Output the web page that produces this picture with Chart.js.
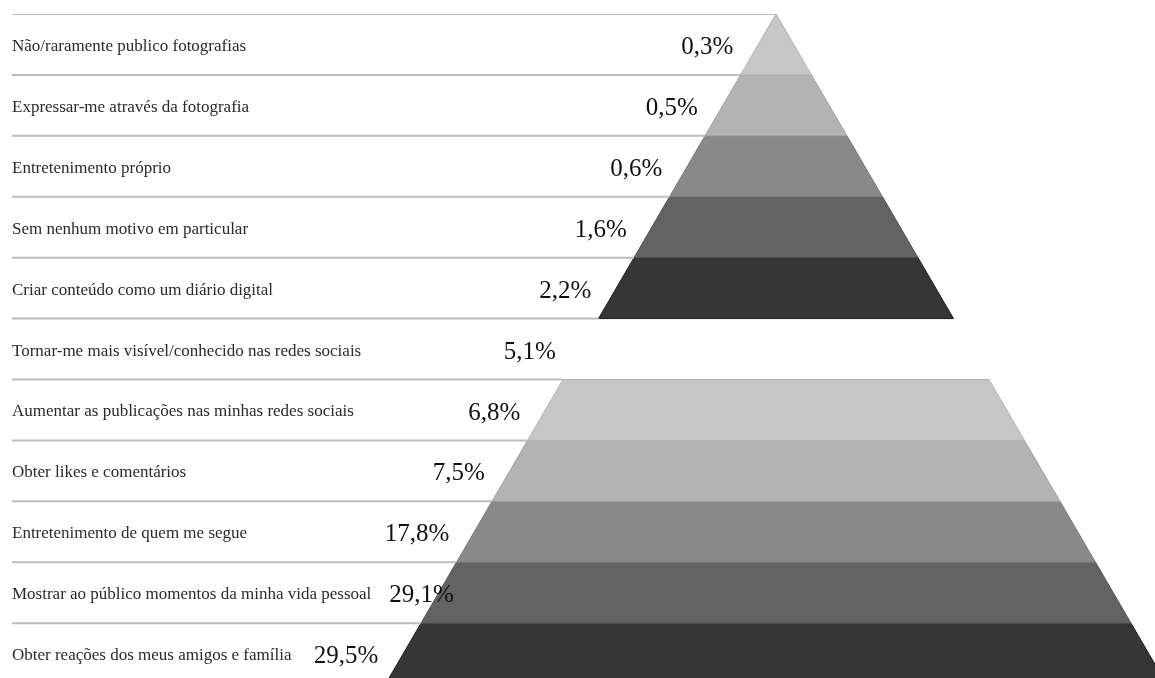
<!DOCTYPE html>
<html lang="pt">
<head>
<meta charset="utf-8">
<title>Motivos para publicar fotografias</title>
<script src="https://cdn.jsdelivr.net/npm/chart.js@4.4.1/dist/chart.umd.min.js"></script>
<style>
  html, body { margin: 0; padding: 0; background: #fff; }
  #wrap { width: 1155px; height: 678px; position: relative; }
</style>
</head>
<body>
<div id="wrap"><canvas id="pyramid"></canvas></div>
<script>
// categories, top to bottom
const categories = [
  'Não/raramente publico fotografias',
  'Expressar-me através da fotografia',
  'Entretenimento próprio',
  'Sem nenhum motivo em particular',
  'Criar conteúdo como um diário digital',
  'Tornar-me mais visível/conhecido nas redes sociais',
  'Aumentar as publicações nas minhas redes sociais',
  'Obter likes e comentários',
  'Entretenimento de quem me segue',
  'Mostrar ao público momentos da minha vida pessoal',
  'Obter reações dos meus amigos e família'
];
// share of answers, %
const shares = [0.3, 0.5, 0.6, 1.6, 2.2, 5.1, 6.8, 7.5, 17.8, 29.1, 29.5];

// look & layout
const shades = ['#c6c6c6', '#b3b3b3', '#898989', '#636363', '#363636'];
const edgeShades = ['#b4b4b4', '#a2a2a2', '#7a7a7a', '#505050', '#1c1c1c'];
const gapRow = 5;          // row between the two halves of the pyramid
const apexX = 764;         // x of the pyramid tip (x units = px from the left rule start)
const halfStep = 35.5;     // half width added per row
const rowsShown = 10.9;    // the last row is cut by the bottom of the picture
const labelFont = '17px "Liberation Serif", serif';
const pctFont = '25px "Liberation Serif", serif';

// left edge of the pyramid at a given row position
function edgeAt(row) {
  return apexX - halfStep * row;
}

function fmt(v) {
  return v.toFixed(1).replace('.', ',') + '%';
}

// one trapezoid per row (none on the gap row)
const bandSets = [];
categories.forEach((_, i) => {
  if (i === gapRow) return;
  const k = i < gapRow ? i : i - gapRow - 1;
  const t = halfStep * i;
  const b = halfStep * (i + 1);
  bandSets.push({
    data: [
      { x: apexX - t, y: i }, { x: apexX + t, y: i },
      { x: apexX + b, y: i + 1 }, { x: apexX - b, y: i + 1 },
      { x: apexX - t, y: i }
    ],
    backgroundColor: shades[k],
    borderColor: edgeShades[k],
    borderWidth: 1,
    fill: 'shape',
    pointRadius: 0,
    tension: 0
  });
});

// grey rules above each row, stopping at the pyramid
const ruleSets = categories.map((_, i) => ({
  data: [{ x: 0, y: i }, { x: edgeAt(i), y: i }],
  borderColor: '#bdbdbd',
  borderWidth: 2,
  fill: false,
  pointRadius: 0
}));

// percentage next to the pyramid, pushed right when it would hit the label
const shareLabels = {
  id: 'shareLabels',
  afterDatasetsDraw(chart) {
    const { ctx, scales: { x, y } } = chart;
    ctx.save();
    shares.forEach((v, i) => {
      ctx.font = labelFont;
      const labelEnd = y.right + ctx.measureText(categories[i]).width;
      ctx.font = pctFont;
      const txt = fmt(v);
      const w = ctx.measureText(txt).width;
      let right = x.getPixelForValue(edgeAt(i + 0.5)) - 25;
      if (right - w < labelEnd + 18) right = labelEnd + 18 + w;
      ctx.textAlign = 'right';
      ctx.textBaseline = 'middle';
      ctx.fillStyle = '#111';
      ctx.fillText(txt, right, y.getPixelForValue(i + 0.5) + 3);
    });
    ctx.restore();
  }
};

new Chart(document.getElementById('pyramid'), {
  type: 'line',
  data: { datasets: [...ruleSets, ...bandSets] },
  options: {
    responsive: true,
    maintainAspectRatio: false,
    animation: false,
    events: [],
    layout: { padding: { left: 12, top: 14, right: 0, bottom: 0 } },
    plugins: { legend: { display: false }, tooltip: { enabled: false } },
    scales: {
      x: { type: 'linear', display: false, min: 0, max: 1143 },
      y: {
        type: 'linear',
        reverse: true,
        min: 0,
        max: rowsShown,
        grid: { display: false, drawTicks: false },
        border: { display: false },
        afterBuildTicks: axis => {
          axis.ticks = categories.map((_, i) => ({ value: i + 0.5 }));
        },
        afterFit: axis => {
          axis.paddingTop = 0;
          axis.paddingBottom = 0;
        },
        ticks: {
          mirror: true,
          padding: 0,
          labelOffset: 2,
          autoSkip: false,
          color: '#2a2a2a',
          font: { family: '"Liberation Serif", serif', size: 17 },
          callback: v => categories[Math.floor(v)]
        }
      }
    }
  },
  plugins: [shareLabels]
});
</script>
</body>
</html>
